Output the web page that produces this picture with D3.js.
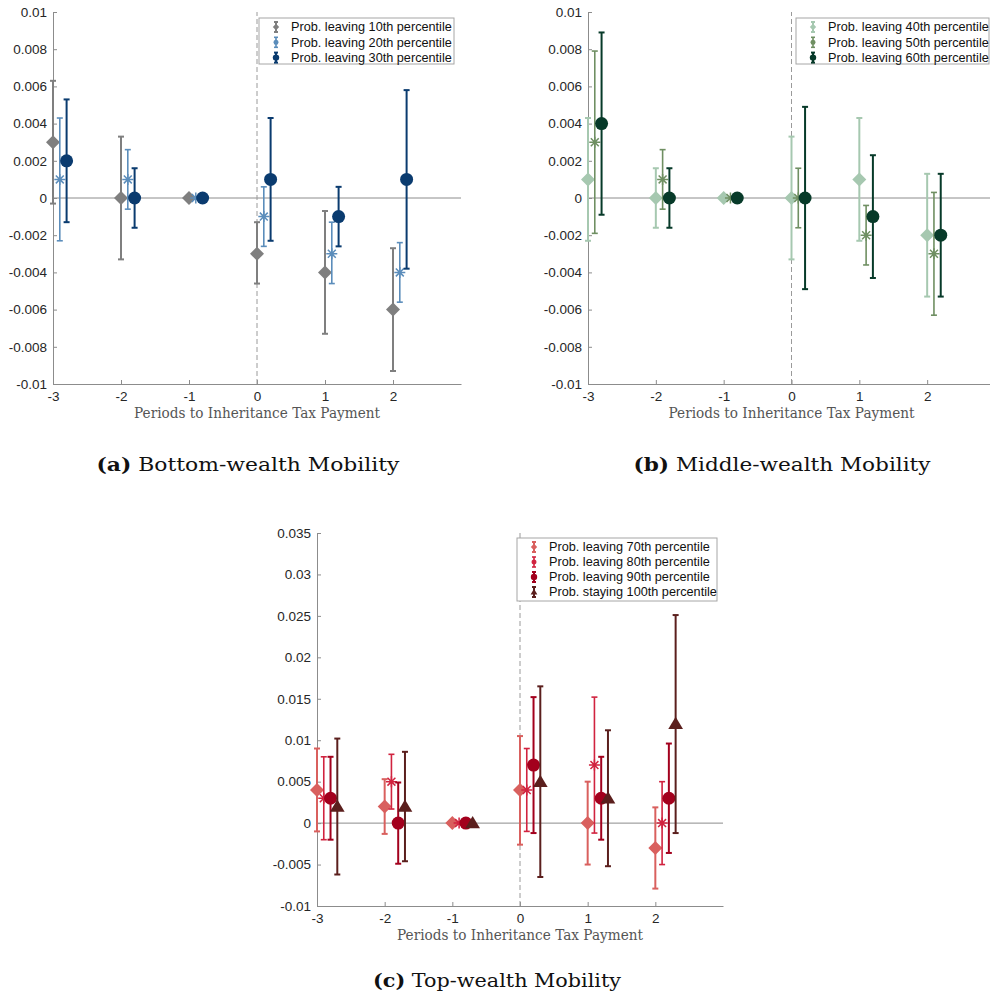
<!DOCTYPE html>
<html><head><meta charset="utf-8">
<script src="https://cdn.jsdelivr.net/npm/d3@7"></script>
<style>html,body{margin:0;padding:0;background:#fff;overflow:hidden}</style>
</head><body>
<script>
// ---------- data ----------
const periods = [-3, -2, -1, 0, 1, 2];
const xTicks = [-3, -2, -1, 0, 1, 2];
const yTicksAB = [-0.01, -0.008, -0.006, -0.004, -0.002, 0, 0.002, 0.004, 0.006, 0.008, 0.01];
const yTicksC = [-0.01, -0.005, 0, 0.005, 0.01, 0.015, 0.02, 0.025, 0.03, 0.035];
const xLabel = "Periods to Inheritance Tax Payment";

// Panel (a)
const p10 = [0.003, 0, 0, -0.003, -0.004, -0.006];
const p10Lo = [-0.0003, -0.0033, null, -0.0046, -0.0073, -0.0093];
const p10Hi = [0.0063, 0.0033, null, -0.0013, -0.0007, -0.0027];
const p20 = [0.001, 0.001, 0, -0.001, -0.003, -0.004];
const p20Lo = [-0.0023, -0.0006, null, -0.0026, -0.0046, -0.0056];
const p20Hi = [0.0043, 0.0026, null, 0.0006, -0.0013, -0.0024];
const p30 = [0.002, 0, 0, 0.001, -0.001, 0.001];
const p30Lo = [-0.0013, -0.0016, null, -0.0023, -0.0026, -0.0038];
const p30Hi = [0.0053, 0.0016, null, 0.0043, 0.0006, 0.0058];

// Panel (b)
const p40 = [0.001, 0, 0, 0, 0.001, -0.002];
const p40Lo = [-0.0023, -0.0016, null, -0.0033, -0.0023, -0.0053];
const p40Hi = [0.0043, 0.0016, null, 0.0033, 0.0043, 0.0013];
const p50 = [0.003, 0.001, 0, 0, -0.002, -0.003];
const p50Lo = [-0.0019, -0.0006, null, -0.0016, -0.0036, -0.0063];
const p50Hi = [0.0079, 0.0026, null, 0.0016, -0.0004, 0.0003];
const p60 = [0.004, 0, 0, 0, -0.001, -0.002];
const p60Lo = [-0.0009, -0.0016, null, -0.0049, -0.0043, -0.0053];
const p60Hi = [0.0089, 0.0016, null, 0.0049, 0.0023, 0.0013];

// Panel (c)
const p70 = [0.004, 0.002, 0, 0.004, 0, -0.003];
const p70Lo = [-0.001, -0.0013, null, -0.0026, -0.005, -0.0079];
const p70Hi = [0.009, 0.0053, null, 0.0105, 0.005, 0.0019];
const p80 = [0.003, 0.005, 0, 0.004, 0.007, 0];
const p80Lo = [-0.002, 0.0017, null, -0.001, -0.0012, -0.005];
const p80Hi = [0.008, 0.0083, null, 0.009, 0.0152, 0.005];
const p90 = [0.003, 0, 0, 0.007, 0.003, 0.003];
const p90Lo = [-0.002, -0.0049, null, -0.0012, -0.002, -0.0036];
const p90Hi = [0.008, 0.0049, null, 0.0152, 0.008, 0.0096];
const p100 = [0.002, 0.002, 0, 0.005, 0.003, 0.012];
const p100Lo = [-0.0062, -0.0046, null, -0.0065, -0.0052, -0.0012];
const p100Hi = [0.0102, 0.0086, null, 0.0165, 0.0112, 0.0251];

const labelsA = ["Prob. leaving 10th percentile", "Prob. leaving 20th percentile", "Prob. leaving 30th percentile"];
const labelsB = ["Prob. leaving 40th percentile", "Prob. leaving 50th percentile", "Prob. leaving 60th percentile"];
const labelsC = ["Prob. leaving 70th percentile", "Prob. leaving 80th percentile", "Prob. leaving 90th percentile", "Prob. staying 100th percentile"];

// ---------- drawing ----------
const W = 990, H = 1003;
const svg = d3.select("body").append("svg").attr("width", W).attr("height", H)
  .attr("font-family", "'Liberation Sans', Arial, Helvetica, sans-serif");

const SANS = "'Liberation Sans', Arial, Helvetica, sans-serif";
const SERIF = "'DejaVu Serif', 'Liberation Serif', serif";

function markerPath(shape, s) {
  if (shape === "diamond") return `M0,${-s}L${s},0L0,${s}L${-s},0Z`;
  if (shape === "triangle") return `M0,${-s}L${s*1.05},${s*0.75}L${-s*1.05},${s*0.75}Z`;
  if (shape === "star") {
    const d = s * 0.72;
    return `M${-s},0L${s},0M0,${-s}L0,${s}M${-d},${-d}L${d},${d}M${-d},${d}L${d},${-d}`;
  }
  return null;
}

function drawMarker(g, shape, cx, cy, color, size) {
  if (shape === "circle") {
    g.append("circle").attr("cx", cx).attr("cy", cy).attr("r", size).attr("fill", color);
  } else if (shape === "star") {
    g.append("path").attr("d", markerPath(shape, size)).attr("transform", `translate(${cx},${cy})`)
      .attr("fill", "none").attr("stroke", color).attr("stroke-width", 1.5);
  } else {
    g.append("path").attr("d", markerPath(shape, size)).attr("transform", `translate(${cx},${cy})`)
      .attr("fill", color);
  }
}

const fmt = d => (+d.toFixed(4)).toString();

function panel(cfg) {
  const g = svg.append("g");
  const x = d3.scaleLinear().domain([-3, 3]).range([cfg.x0, cfg.x1]);
  const y = d3.scaleLinear().domain(cfg.yDom).range([cfg.yB, cfg.yT]);

  // axes
  const ya = g.append("g").attr("transform", `translate(${cfg.x0},0)`)
    .call(d3.axisLeft(y).tickValues(cfg.yTicks).tickFormat(fmt).tickSize(-4).tickSizeOuter(0).tickPadding(6));
  const xa = g.append("g").attr("transform", `translate(0,${cfg.yB})`)
    .call(d3.axisBottom(x).tickValues(xTicks).tickFormat(d => String(d)).tickSize(-4).tickSizeOuter(0).tickPadding(6));
  [ya, xa].forEach(a => {
    a.select(".domain").attr("stroke", "#8c8c8c").attr("stroke-width", 1);
    a.selectAll(".tick line").attr("stroke", "#8c8c8c");
    a.selectAll(".tick text").attr("fill", "#262626").attr("font-size", 13.5).attr("font-family", SANS);
  });
  xa.selectAll(".tick text").attr("dy", "0.85em");

  // x label
  g.append("text").attr("x", (x(-3) + x(3)) / 2 + cfg.labelShift).attr("y", cfg.yB + 34)
    .attr("text-anchor", "middle").attr("font-family", SERIF).attr("font-size", 14)
    .attr("fill", "#555").attr("textLength", 246).attr("lengthAdjust", "spacingAndGlyphs").text(xLabel);

  // zero line & dashed line
  g.append("line").attr("x1", x(-3)).attr("x2", x(3)).attr("y1", y(0)).attr("y2", y(0))
    .attr("stroke", "#8c8c8c").attr("stroke-width", 1);
  g.append("line").attr("x1", x(0)).attr("x2", x(0)).attr("y1", cfg.yB).attr("y2", cfg.yT)
    .attr("stroke", "#9a9a9a").attr("stroke-width", 1).attr("stroke-dasharray", "5,3");

  // series
  cfg.series.forEach((s, si) => {
    const sg = g.append("g");
    periods.forEach((p, i) => {
      const cx = x(p + s.off);
      if (s.lo[i] !== null) {
        const y1 = y(s.lo[i]), y2 = y(s.hi[i]);
        sg.append("line").attr("x1", cx).attr("x2", cx).attr("y1", y1).attr("y2", y2)
          .attr("stroke", s.color).attr("stroke-width", s.lw);
        [y1, y2].forEach(yy => sg.append("line").attr("x1", cx - 3).attr("x2", cx + 3)
          .attr("y1", yy).attr("y2", yy).attr("stroke", s.color).attr("stroke-width", s.lw));
      }
      drawMarker(sg, s.shape, cx, y(s.v[i]), s.color, s.size);
    });
  });

  // legend
  const L = cfg.legend;
  const lg = g.append("g");
  lg.append("rect").attr("x", L.x).attr("y", L.y).attr("width", L.w).attr("height", L.h)
    .attr("fill", "#fff").attr("stroke", "#a6a6a6").attr("stroke-width", 1);
  cfg.series.forEach((s, i) => {
    const cy = L.y + 9 + i * L.step;
    const cx = L.x + 17;
    lg.append("line").attr("x1", cx).attr("x2", cx).attr("y1", cy - 5).attr("y2", cy + 5)
      .attr("stroke", s.color).attr("stroke-width", s.lw);
    [cy - 5, cy + 5].forEach(yy => lg.append("line").attr("x1", cx - 2).attr("x2", cx + 2)
      .attr("y1", yy).attr("y2", yy).attr("stroke", s.color).attr("stroke-width", s.lw));
    drawMarker(lg, s.shape, cx, cy, s.color, s.shape === "star" ? 2.5 : 3.2);
    lg.append("text").attr("x", L.x + 32).attr("y", cy).attr("dy", "0.35em")
      .attr("font-size", 12.7).attr("font-family", SANS).attr("fill", "#111").text(s.label);
  });

  // caption
  const cap = svg.append("text").attr("x", cfg.capX).attr("y", cfg.capY).attr("text-anchor", "middle")
    .attr("font-family", SERIF).attr("font-size", 19).attr("fill", "#111")
    .attr("textLength", cfg.capW).attr("lengthAdjust", "spacingAndGlyphs");
  cap.append("tspan").attr("font-weight", "bold").text(cfg.capTag);
  cap.append("tspan").text(" " + cfg.capText);
}

panel({
  x0: 53, x1: 461, yT: 12, yB: 384, yDom: [-0.01, 0.01], yTicks: yTicksAB, labelShift: 0,
  legend: { x: 259, y: 18, w: 195, h: 46, step: 15.3 },
  capX: 248, capY: 471, capW: 303, capTag: "(a)", capText: "Bottom-wealth Mobility",
  series: [
    { v: p10, lo: p10Lo, hi: p10Hi, off: 0, color: "#7f7f7f", shape: "diamond", size: 7, lw: 2, label: labelsA[0] },
    { v: p20, lo: p20Lo, hi: p20Hi, off: 0.1, color: "#5b8dbb", shape: "star", size: 5.5, lw: 1.6, label: labelsA[1] },
    { v: p30, lo: p30Lo, hi: p30Hi, off: 0.2, color: "#0a3b6f", shape: "circle", size: 6.5, lw: 2, label: labelsA[2] }
  ]
});

panel({
  x0: 588, x1: 995, yT: 12, yB: 384, yDom: [-0.01, 0.01], yTicks: yTicksAB, labelShift: 0,
  legend: { x: 796, y: 18, w: 193, h: 46, step: 15.3 },
  capX: 782, capY: 471, capW: 297, capTag: "(b)", capText: "Middle-wealth Mobility",
  series: [
    { v: p40, lo: p40Lo, hi: p40Hi, off: 0, color: "#a6c8b0", shape: "diamond", size: 7, lw: 2, label: labelsB[0] },
    { v: p50, lo: p50Lo, hi: p50Hi, off: 0.1, color: "#6f8f62", shape: "star", size: 5.5, lw: 1.6, label: labelsB[1] },
    { v: p60, lo: p60Lo, hi: p60Hi, off: 0.2, color: "#073a29", shape: "circle", size: 6.5, lw: 2, label: labelsB[2] }
  ]
});

panel({
  x0: 317, x1: 723, yT: 533, yB: 906, yDom: [-0.01, 0.035], yTicks: yTicksC, labelShift: 0,
  legend: { x: 517, y: 538, w: 200, h: 63, step: 15 },
  capX: 497, capY: 987, capW: 248, capTag: "(c)", capText: "Top-wealth Mobility",
  series: [
    { v: p70, lo: p70Lo, hi: p70Hi, off: 0, color: "#d9605e", shape: "diamond", size: 7, lw: 2, label: labelsC[0] },
    { v: p80, lo: p80Lo, hi: p80Hi, off: 0.1, color: "#d1233f", shape: "star", size: 5.5, lw: 1.6, label: labelsC[1] },
    { v: p90, lo: p90Lo, hi: p90Hi, off: 0.2, color: "#a3001d", shape: "circle", size: 6.5, lw: 2, label: labelsC[2] },
    { v: p100, lo: p100Lo, hi: p100Hi, off: 0.3, color: "#5b1f1d", shape: "triangle", size: 7, lw: 2, label: labelsC[3] }
  ]
});
</script>
</body></html>
